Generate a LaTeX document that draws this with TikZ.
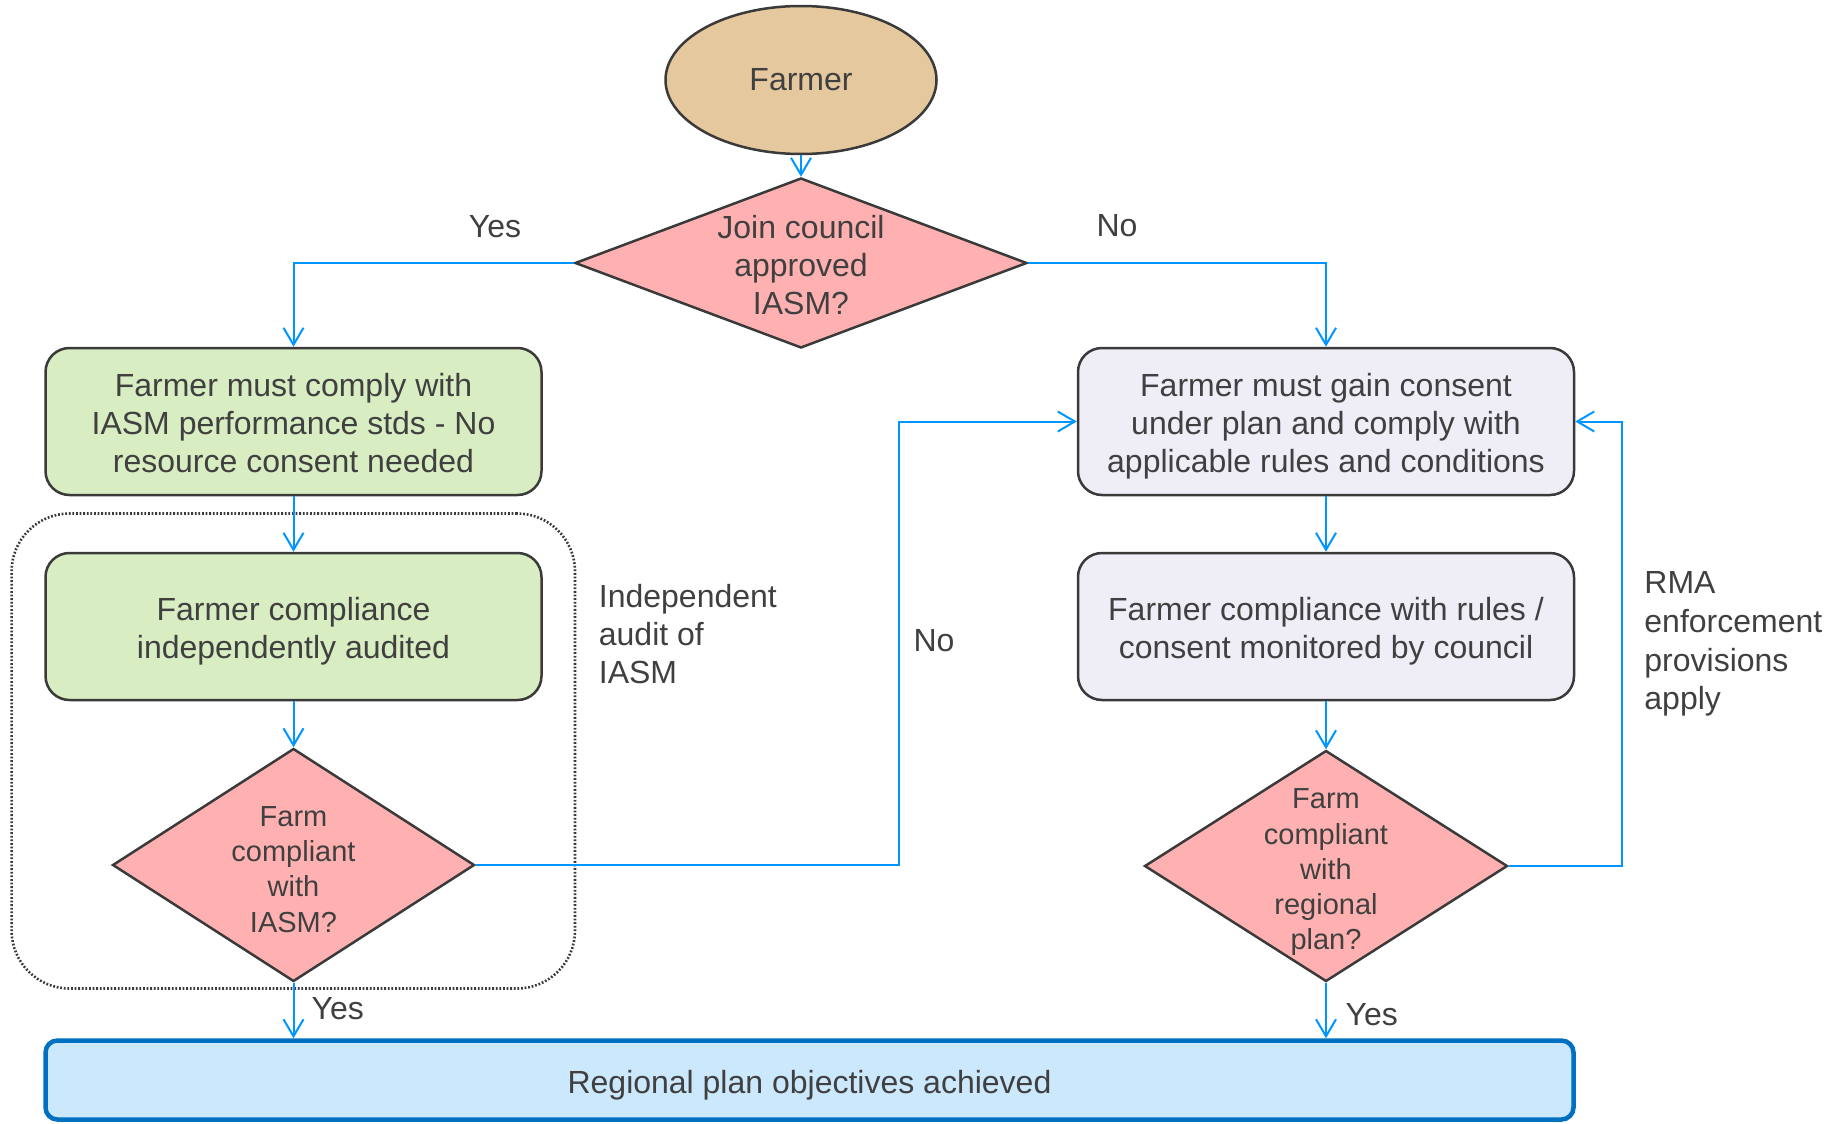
\documentclass[tikz,border=0pt]{standalone}
\usepackage{fontspec}
\setmainfont{Liberation Sans}
\usetikzlibrary{shapes.geometric,arrows.meta}
\definecolor{txt}{HTML}{404040}
\definecolor{edge}{HTML}{3A3A3A}
\definecolor{tanf}{HTML}{E5C89D}
\definecolor{pinkf}{HTML}{FFB1B1}
\definecolor{greenf}{HTML}{D9EDC3}
\definecolor{lavf}{HTML}{EFEDF6}
\definecolor{goalf}{HTML}{CCE8FD}
\definecolor{goale}{HTML}{0070C0}
\definecolor{blu}{HTML}{0096FF}
\newcommand{\tstrut}{\rule{0pt}{16.2pt}}
\begin{document}
\begin{tikzpicture}[x=0.5pt,y=-0.5pt,
  box/.style={rectangle, rounded corners=12pt, draw=edge, line width=1.25pt,
    minimum width=248pt, minimum height=73.5pt, align=center,
    font=\fontsize{16}{19.1}\selectfont, text=txt, inner sep=0pt},
  greenbox/.style={box, fill=greenf},
  lavbox/.style={box, fill=lavf},
  dia/.style={diamond, draw=edge, line width=1.25pt, fill=pinkf, inner sep=0pt},
  dtext/.style={align=center, text=txt, font=\fontsize{14.5}{17.6}\selectfont, inner sep=0pt},
  bigtext/.style={align=center, text=txt, font=\fontsize{16}{19.1}\selectfont, inner sep=0pt},
  lbl/.style={text=txt, font=\fontsize{16}{19.1}\selectfont, inner sep=0pt},
  conn/.style={draw=blu, line width=1pt, -{Straight Barb[length=8.5pt,width=10pt]}},
  auditframe/.style={draw=edge, line width=1.3pt, dash pattern=on 0.9pt off 0.9pt,
    rounded corners=29pt, minimum width=281.7pt, minimum height=237.5pt, inner sep=0pt}
]
\useasboundingbox (0,0) rectangle (1826,1124);

% dotted audit frame
\node[auditframe] (audit) at (293.3,751) {};

% nodes
\node[ellipse, draw=edge, line width=1.25pt, fill=tanf, minimum width=135.5pt,
  minimum height=74pt, inner sep=0pt, text=txt, font=\fontsize{16}{19.1}\selectfont]
  (farmer) at (801,80) {Farmer};

\node[dia, minimum width=226pt, minimum height=85pt] (d1) at (801,263) {};
\node[bigtext] (d1t) at ([yshift=-0.9pt]d1.center) {Join council\\approved\\IASM?};

\node[greenbox] (g1) at (293.5,421.5) {\rule{0pt}{13.3pt}Farmer must comply with\\IASM performance stds - No\\resource consent needed};
\node[greenbox] (g2) at (293.5,626.5) {\tstrut Farmer compliance\\independently audited};

\node[dia, minimum width=181pt, minimum height=116.5pt] (d2) at (293.5,865) {};
\node[dtext] (d2t) at ([yshift=-2.2pt]d2.center) {Farm\\compliant\\with\\IASM?};

\node[lavbox] (r1) at (1326,421.5) {\tstrut Farmer must gain consent\\under plan and comply with\\applicable rules and conditions};
\node[lavbox] (r2) at (1326,626.5) {\tstrut Farmer compliance with rules /\\consent monitored by council};

\node[dia, minimum width=181.5pt, minimum height=115.5pt] (d3) at (1326,866) {};
\node[dtext] (d3t) at ([yshift=-3.2pt]d3.center) {Farm\\compliant\\with\\regional\\plan?};

\node[rectangle, draw=goale, line width=2.25pt, fill=goalf, rounded corners=6pt,
  minimum width=764pt, minimum height=39.5pt, inner sep=0pt, text=txt,
  font=\fontsize{16}{19.1}\selectfont] (goal) at (809.5,1080) {\rule{0pt}{17.3pt}Regional plan objectives achieved};

% labels
\node[lbl] (yes1) at (495,227) {Yes};
\node[lbl] (no1) at (1117,226) {No};
\node[lbl] (no2) at (934,641) {No};
\node[lbl] (yes2) at (337.7,1009) {Yes};
\node[lbl] (yes3) at (1371.8,1014.5) {Yes};
\node[lbl, anchor=west, align=left] (auditlbl) at (598.5,634) {Independent\\audit of\\IASM};
\node[lbl, anchor=west, align=left, font=\fontsize{16}{19.4}\selectfont] (rmalbl) at (1644,644) {RMA\\enforcement\\provisions\\apply};

% helper coordinates for loop-backs
\coordinate (k1) at (899,0);
\coordinate (k2) at (1622,0);

% connectors
\draw[conn] (farmer.south) -- (d1.north);
\draw[conn] (d1.west) -| (g1.north);
\draw[conn] (d1.east) -| (r1.north);
\draw[conn] (g1.south) -- (g2.north);
\draw[conn] (g2.south) -- (d2.north);
\draw[conn] (r1.south) -- (r2.north);
\draw[conn] (r2.south) -- (d3.north);
\draw[conn] (d2.east) -- (d2.east -| k1) |- (r1.west);
\draw[conn] (d3.east) -- (d3.east -| k2) |- (r1.east);
\draw[conn] (d2.south) -- (d2.south |- goal.north);
\draw[conn] (d3.south) -- (d3.south |- goal.north);
\end{tikzpicture}
\end{document}
